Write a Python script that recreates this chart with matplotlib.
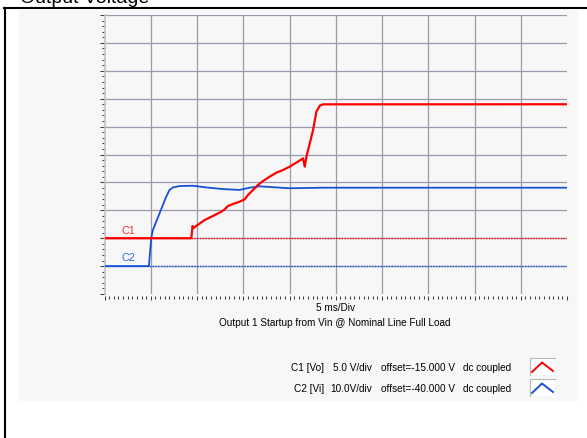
import matplotlib
matplotlib.use("Agg")
import matplotlib.pyplot as plt
from matplotlib.lines import Line2D
from matplotlib.patches import Rectangle
from matplotlib.ticker import MultipleLocator

plt.rcParams['font.family'] = ['Liberation Sans', 'DejaVu Sans']

# ---- data (time in ms, voltage in V) ----
c1_t = [0, 9.38, 9.45, 9.52, 9.60, 9.92, 10.82, 11.72, 12.63, 12.99, 13.35, 13.89,
        14.61, 15.15, 15.51, 16.05, 16.59, 17.14, 17.86, 18.58, 19.30, 20.02,
        20.74, 21.46, 21.65, 21.83, 22.55, 22.91, 23.27, 23.63, 50]
c1_v = [0, 0, 1.0, 2.2, 1.8, 2.19, 3.26, 3.98, 4.75, 5.17, 5.77, 6.13,
        6.55, 6.97, 7.74, 8.64, 9.53, 10.25, 11.03, 11.74, 12.22, 12.82,
        13.54, 14.31, 12.82, 14.61, 19.39, 22.68, 23.75, 23.99, 24.0]

c2_t = [0, 4.80, 5.05, 5.23, 5.95, 6.67, 7.03, 7.40, 8.12, 9.56, 11.0, 12.81,
        14.61, 15.69, 16.77, 18.58, 20.02, 23.63, 50]
c2_v = [0, 0, 9.95, 12.94, 18.9, 24.9, 27.3, 28.2, 28.7, 28.8, 28.2, 27.6,
        27.3, 28.1, 28.6, 28.2, 27.9, 28.1, 28.1]

c1_scale, c1_offset = 5.0, -15.0    # V/div, V
c2_scale, c2_offset = 10.0, -40.0
time_div = 5.0                       # ms/div
n_div = 10

title = "Output Voltage"
xlabel = "5 ms/Div"
subtitle = "Output 1 Startup from Vin @ Nominal Line Full Load"
legend_rows = [
    ("C1 [Vo]", "5.0 V/div", "offset=-15.000 V", "dc coupled"),
    ("C2 [Vi]", "10.0V/div", "offset=-40.000 V", "dc coupled"),
]

RED = "#ff0000"
BLUE = "#1652d8"
GRID = "#9a9aad"
W, H = 587, 438

fig = plt.figure(figsize=(W / 100, H / 100), dpi=100)
fx = lambda px: px / W
fy = lambda py: 1 - py / H

# panel + frame
fig.add_artist(Rectangle((fx(19), fy(401)), fx(578) - fx(19), fy(10) - fy(401),
                         transform=fig.transFigure, facecolor="#f7f7f7",
                         edgecolor="none", zorder=0))
fig.add_artist(Line2D([fx(5), fx(5)], [fy(8), 0], transform=fig.transFigure,
                      color="black", lw=1.5))
fig.add_artist(Line2D([fx(4), 1], [fy(8), fy(8)], transform=fig.transFigure,
                      color="black", lw=1.5))
fig.text(fx(20), fy(3), title, fontsize=14, ha="left", va="baseline")

# axes
def ylims(scale, offset):
    center = -offset
    return center - scale * n_div / 2, center + scale * n_div / 2

axb = fig.add_axes([fx(104.5), fy(294), (567 - 104.5) / W, (294 - 15) / H])
axb.patch.set_visible(False)
axb.set_xlim(0, time_div * n_div)
axb.set_ylim(*ylims(c2_scale, c2_offset))
axr = axb.twinx()
axr.patch.set_visible(False)
axr.set_ylim(*ylims(c1_scale, c1_offset))
axr.set_yticks([])
for s in axr.spines.values():
    s.set_visible(False)

for s in ("top", "right"):
    axb.spines[s].set_visible(False)
axb.spines["left"].set_color("#c4c4c8")
axb.spines["left"].set_linewidth(1.2)
axb.spines["bottom"].set_position(("outward", 1.5))
axb.spines["bottom"].set_color("none")

axb.xaxis.set_major_locator(MultipleLocator(time_div))
axb.xaxis.set_minor_locator(MultipleLocator(time_div / 10))
axb.yaxis.set_major_locator(MultipleLocator(c2_scale))
axb.yaxis.set_minor_locator(MultipleLocator(c2_scale / 5))
axb.tick_params(axis="both", which="both", labelbottom=False, labelleft=False,
                color="#404040", width=0.75, direction="out")
axb.tick_params(axis="x", which="major", length=3.2)
axb.tick_params(axis="x", which="minor", length=2.2)
axb.tick_params(axis="y", which="major", length=3.6)
axb.tick_params(axis="y", which="minor", length=2.0)

lo, hi = axb.get_ylim()
for k in range(1, n_div + 1):
    axb.axhline(lo + k * c2_scale, color=GRID, lw=0.9, zorder=1)
for k in range(1, n_div):
    axb.axvline(k * time_div, color=GRID, lw=0.9, zorder=1)

# reference (ground) levels
axb.axhline(0, color=BLUE, lw=1.0, ls=(0, (1, 1)), zorder=2)
axr.axhline(0, color=RED, lw=1.0, ls=(0, (1, 1)), zorder=2)

axb.plot(c2_t, c2_v, color=BLUE, lw=1.3, zorder=3, solid_joinstyle="round")
axr.plot(c1_t, c1_v, color=RED, lw=1.6, zorder=3, solid_joinstyle="round")

axr.text(1.8, 1.3, "C1", color="#ff3030", fontsize=7.8, va="center", ha="left")
axb.text(1.8, 2.9, "C2", color="#3a6ad8", fontsize=7.8, va="center", ha="left")

fig.text(fx(335), fy(308), xlabel, fontsize=7.2, ha="center", va="center")
fig.text(fx(334.5), fy(323), subtitle, fontsize=7.2, ha="center", va="center")

row_y = [368, 389]
icon_colors = [RED, BLUE]
for (ch, vdiv, off, cpl), yy, col in zip(legend_rows, row_y, icon_colors):
    fig.text(fx(324), fy(yy), ch, fontsize=7.2, ha="right", va="center")
    fig.text(fx(372), fy(yy), vdiv, fontsize=7.2, ha="right", va="center")
    fig.text(fx(381), fy(yy), off, fontsize=7.2, ha="left", va="center")
    fig.text(fx(463), fy(yy), cpl, fontsize=7.2, ha="left", va="center")
    top = yy - 10
    fig.add_artist(Rectangle((fx(530), fy(top + 17)), fx(555) - fx(530), fy(top) - fy(top + 17),
                             transform=fig.transFigure, facecolor="white",
                             edgecolor="none", zorder=1))
    fig.add_artist(Line2D([fx(530), fx(530), fx(555)], [fy(top + 17), fy(top), fy(top)],
                          transform=fig.transFigure, color="#b8b8b8", lw=0.8, zorder=2))
    fig.add_artist(Line2D([fx(532), fx(542), fx(553)], [fy(top + 14), fy(top + 4.5), fy(top + 13)],
                          transform=fig.transFigure, color=col, lw=1.4, zorder=3))

fig.savefig("out.png", dpi=100)
